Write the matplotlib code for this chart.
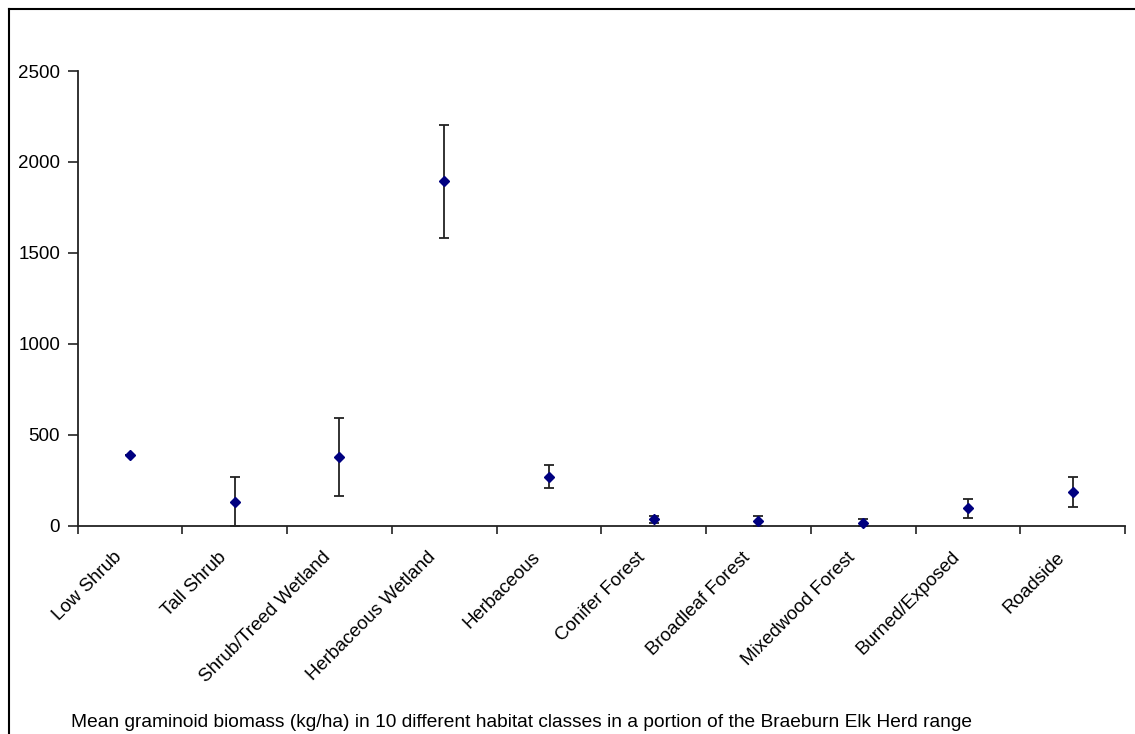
import matplotlib
matplotlib.use("Agg")
import matplotlib.pyplot as plt
from matplotlib.lines import Line2D
from matplotlib.transforms import ScaledTranslation

categories = ["Low Shrub", "Tall Shrub", "Shrub/Treed Wetland", "Herbaceous Wetland",
              "Herbaceous", "Conifer Forest", "Broadleaf Forest", "Mixedwood Forest",
              "Burned/Exposed", "Roadside"]
means = [389, 129, 379, 1897, 268, 35, 26, 17, 99, 185]
err_lower = [0, 129, 216, 317, 59, 21, 26, 17, 58, 81]
err_upper = [0, 139, 212, 308, 64, 20, 29, 18, 48, 83]
y_ticks = [0, 500, 1000, 1500, 2000, 2500]
caption = ("Mean graminoid biomass (kg/ha) in 10 different habitat classes "
           "in a portion of the Braeburn Elk Herd range")

plt.rcParams['font.family'] = ['Liberation Sans', 'DejaVu Sans']

W, H = 1135, 734
fig = plt.figure(figsize=(W / 100, H / 100), dpi=100)
ax = fig.add_axes([77.5 / W, 1 - 525.7 / H, (1125 - 77.5) / W, (525.7 - 71) / H])

x = list(range(len(categories)))
ax.errorbar(x, means, yerr=[err_lower, err_upper], fmt='none', ecolor='#222222',
            elinewidth=1.3, capsize=3.6, capthick=1.3, zorder=2)
ax.plot(x, means, linestyle='none', marker='D', markersize=5.2,
        color='#000080', markeredgecolor='#000080', zorder=3, clip_on=False)

ax.set_xlim(-0.5, len(categories) - 0.5)
ax.set_ylim(0, 2500)
ax.set_yticks(y_ticks)
ax.set_yticklabels([str(v) for v in y_ticks], fontsize=13.5)
ax.tick_params(axis='y', direction='out', length=7, width=1.2, pad=5.5, color='#222222')

ax.set_xticks(x)
ax.set_xticklabels(categories, rotation=45, ha='right', va='top', fontsize=13.5)
ax.tick_params(axis='x', which='major', length=0, pad=16.5)
shift = ScaledTranslation(-5 / 100, 0, fig.dpi_scale_trans)
for lab in ax.get_xticklabels():
    lab.set_transform(lab.get_transform() + shift)
ax.set_xticks([i - 0.5 for i in range(len(categories) + 1)], minor=True)
ax.tick_params(axis='x', which='minor', direction='out', length=6, width=1.2, color='#222222')

for s in ['top', 'right']:
    ax.spines[s].set_visible(False)
for s in ['left', 'bottom']:
    ax.spines[s].set_color('#222222')
    ax.spines[s].set_linewidth(1.3)

# caption
fig.text(71 / W, 1 - 727 / H, caption, fontsize=13.8, va='baseline', ha='left')

# outer border (left and top visible)
fig.add_artist(Line2D([9 / W, 9 / W], [0, 1 - 9 / H], transform=fig.transFigure,
                      color='black', linewidth=1.5))
fig.add_artist(Line2D([9 / W, 1], [1 - 9 / H, 1 - 9 / H], transform=fig.transFigure,
                      color='black', linewidth=1.5))

fig.savefig("out.png", dpi=100)
